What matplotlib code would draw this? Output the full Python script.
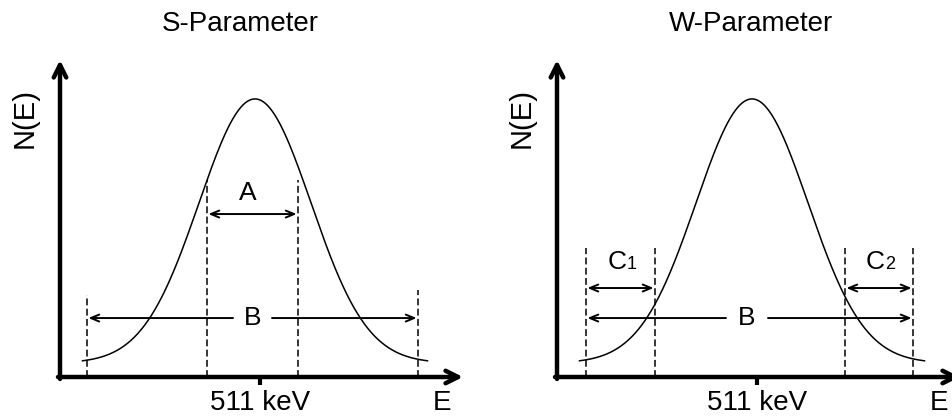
import matplotlib.pyplot as plt
import numpy as np

plt.rcParams['font.family'] = ['Liberation Sans', 'DejaVu Sans']

# peak shape (energy in keV, counts in arbitrary units)
peak_centre = 510.9
peak_sigma = 1.12
peak_height = 0.95
baseline = 0.05
curve_range = [507.45, 514.35]

# S-parameter panel
s_lines = [507.54, 509.94, 511.76, 514.16]
s_line_tops = [0.295, 0.709, 0.709, 0.313]
a_window = [509.94, 511.76]
a_y = 0.586
b_window_s = [507.54, 514.16]
b_y = 0.212

# W-parameter panel
w_lines = [507.58, 508.96, 512.76, 514.12]
w_line_top = 0.464
c1_window = [507.58, 508.96]
c2_window = [512.76, 514.12]
c_y = 0.320
b_window_w = [507.58, 514.12]

xmin, xmax = 507.0, 515.0
ymax = 1.14
fs = 20


def gauss(e):
    return baseline + peak_height * np.exp(-(e - peak_centre) ** 2 / (2 * peak_sigma ** 2))


def axes_arrows(ax):
    style = '->,head_length=0.9,head_width=0.45'
    ax.annotate('', xy=(xmin, ymax), xytext=(xmin, -0.007),
                arrowprops=dict(arrowstyle=style, lw=3.2, color='black', shrinkA=0, shrinkB=0),
                annotation_clip=False)
    ax.annotate('', xy=(xmax + 0.06, 0), xytext=(xmin - 0.04, 0),
                arrowprops=dict(arrowstyle=style, lw=3.2, color='black', shrinkA=0, shrinkB=0),
                annotation_clip=False)
    ax.plot([511, 511], [0, -0.03], color='black', lw=3, clip_on=False, solid_capstyle='butt')
    ax.text(511, -0.092, '511 keV', fontsize=fs, ha='center', va='center')
    ax.text(514.64, -0.092, 'E', fontsize=fs, ha='center', va='center', clip_on=False)
    ax.text(506.3, 0.93, 'N(E)', fontsize=21, ha='center', va='center', rotation=90)


def dbl_arrow(ax, x0, x1, y):
    ax.annotate('', xy=(x1, y), xytext=(x0, y),
                arrowprops=dict(arrowstyle='<->,head_length=0.6,head_width=0.25', lw=1.4, color='black',
                                shrinkA=1, shrinkB=1))


def b_arrow(ax, x0, x1, y, gap):
    style = '->,head_length=0.6,head_width=0.25'
    ax.annotate('', xy=(x0, y), xytext=(gap[0], y),
                arrowprops=dict(arrowstyle=style, lw=1.4, color='black', shrinkA=0, shrinkB=1))
    ax.annotate('', xy=(x1, y), xytext=(gap[1], y),
                arrowprops=dict(arrowstyle=style, lw=1.4, color='black', shrinkA=0, shrinkB=1))
    ax.text((gap[0] + gap[1]) / 2, y, 'B', fontsize=19, ha='center', va='center')


def sub_label(ax, x, y, main, sub):
    ax.text(x + 0.08, y, main, fontsize=19, ha='right', va='baseline')
    ax.text(x + 0.08, y, sub, fontsize=13, ha='left', va='baseline')


fig = plt.figure(figsize=(9.52, 4.19), dpi=100)
ax1 = fig.add_axes([60 / 952, 42 / 419, 400 / 952, 317 / 419])
ax2 = fig.add_axes([557 / 952, 42 / 419, 400 / 952, 317 / 419])

e = np.linspace(curve_range[0], curve_range[1], 400)
for ax in (ax1, ax2):
    ax.set_xlim(xmin, xmax)
    ax.set_ylim(0, ymax)
    ax.axis('off')
    ax.plot(e, gauss(e), color='black', lw=1.1)
    axes_arrows(ax)

# S-parameter
ax1.text(510.6, 1.27, 'S-Parameter', fontsize=fs, ha='center', va='center')
for x, top in zip(s_lines, s_line_tops):
    ax1.plot([x, x], [0, top], color='black', lw=1.1, linestyle=(0, (4.5, 2.2)))
dbl_arrow(ax1, a_window[0], a_window[1], a_y)
ax1.text(510.76, 0.662, 'A', fontsize=19, ha='center', va='center')
b_arrow(ax1, b_window_s[0], b_window_s[1], b_y, [510.46, 511.24])

# W-parameter
ax2.text(510.88, 1.27, 'W-Parameter', fontsize=fs, ha='center', va='center')
for x in w_lines:
    ax2.plot([x, x], [0, w_line_top], color='black', lw=1.1, linestyle=(0, (4.5, 2.2)))
dbl_arrow(ax2, c1_window[0], c1_window[1], c_y)
dbl_arrow(ax2, c2_window[0], c2_window[1], c_y)
sub_label(ax2, 508.32, 0.39, 'C', '1')
sub_label(ax2, 513.48, 0.39, 'C', '2')
b_arrow(ax2, b_window_w[0], b_window_w[1], b_y, [510.38, 511.22])

fig.savefig('out.png', dpi=100)
